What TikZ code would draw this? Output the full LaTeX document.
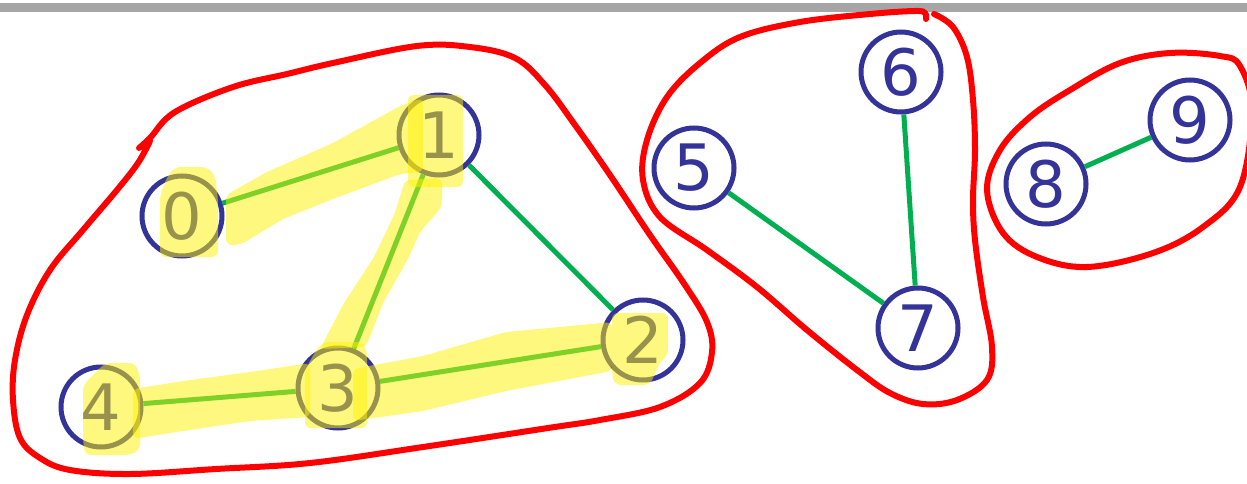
\documentclass[tikz,border=0pt]{standalone}
\usepackage{fontspec}
\setmainfont{DejaVu Sans}
\definecolor{nodeblue}{HTML}{333399}
\definecolor{edgegreen}{HTML}{00B050}
\definecolor{bargray}{HTML}{A6A6A6}
\begin{document}
\begin{tikzpicture}[x=1pt,y=-1pt,
  vertex/.style={circle, draw=nodeblue, line width=5pt, minimum size=80pt, inner sep=0pt, text=nodeblue, font=\fontsize{64}{64}\selectfont},
  greenedge/.style={edgegreen, line width=5pt},
  redloop/.style={red, line width=6pt, line cap=round, line join=round},
  hl/.style={fill=yellow, fill opacity=0.5, rounded corners=6pt}]
\useasboundingbox (0,0) rectangle (1247,484);
\fill[bargray] (0,3) rectangle (1247,12.5);

% nodes
\node[vertex] (n0) at (182,216) {0};
\node[vertex] (n1) at (439,135) {1};
\node[vertex] (n2) at (643,340) {2};
\node[vertex] (n3) at (338,388) {3};
\node[vertex] (n4) at (101,407) {4};
\node[vertex] (n5) at (694,168) {5};
\node[vertex] (n6) at (901,72) {6};
\node[vertex] (n7) at (918,328) {7};
\node[vertex] (n8) at (1046,184) {8};
\node[vertex] (n9) at (1190,120) {9};

% edges
\draw[greenedge] (n0) -- (n1);
\draw[greenedge] (n1) -- (n2);
\draw[greenedge] (n1) -- (n3);
\draw[greenedge] (n4) -- (n3);
\draw[greenedge] (n3) -- (n2);
\draw[greenedge] (n5) -- (n7);
\draw[greenedge] (n6) -- (n7);
\draw[greenedge] (n8) -- (n9);

% red loops
\draw[redloop] plot[smooth, tension=0.6] coordinates {
 (139,148) (150,138) (175,112) (233,87) (287,74) (333,63) (417,46) (470,47)
 (515,58) (545,85) (575,125) (610,175) (650,235) (685,285) (707,322) (712,352)
 (700,383) (660,407) (600,420) (548,428) (423,447) (310,463) (216,469) (130,474)
 (70,470) (40,458) (20,438) (13,400) (15,360) (27,315) (50,270) (83,230)
 (117,190) (138,163) (150,141)};
\draw[redloop] plot[smooth, tension=0.6] coordinates {
 (934,14) (953,27) (967,57) (973,100) (975,150) (973,200) (975,240) (983,297)
 (992,347) (987,380) (957,400) (923,404) (890,393) (857,370) (807,330) (757,287)
 (707,250) (660,217) (643,180) (647,140) (667,97) (700,63) (740,37) (800,22)
 (870,14) (915,11) (925,13) (926,19)};
\draw[redloop] plot[smooth cycle, tension=0.6] coordinates {
 (987,190) (1000,150) (1030,117) (1070,90) (1120,63) (1170,53) (1220,56)
 (1240,66) (1252,110) (1240,187) (1203,227) (1153,253) (1087,267) (1037,257)
 (1003,233)};

% yellow highlights
\fill[hl] (175,167) -- (207,167) -- (215,175) -- (218,200) -- (218,257) -- (160,257) -- (160,195) -- (168,175) -- cycle;
\fill[hl] (226,195) -- (267,172) -- (333,143) -- (400,106) -- (423,98) -- (423,172) -- (400,174) -- (333,199) -- (283,219) -- (240,245) -- (226,245) -- cycle;
\fill[hl] (408,95) -- (463,95) -- (463,187) -- (408,187) -- cycle;
\fill[hl] (405,180) -- (442,178) -- (442,207) -- (420,232) -- (409,257) -- (383,303) -- (366,347) -- (320,349) -- (344,303) -- (374,257) -- (395,213) -- cycle;
\fill[hl] (323,342) -- (362,342) -- (367,350) -- (367,428) -- (305,428) -- (305,370) -- (315,352) -- cycle;
\fill[hl] (133,389) -- (183,381) -- (250,372) -- (310,363) -- (310,417) -- (250,421) -- (183,431) -- (133,439) -- cycle;
\fill[hl] (105,363) -- (135,363) -- (140,375) -- (140,450) -- (130,455) -- (85,455) -- (83,440) -- (83,385) -- cycle;
\fill[hl] (353,369) -- (423,356) -- (506,332) -- (612,322) -- (612,371) -- (506,391) -- (423,411) -- (353,421) -- cycle;
\fill[hl] (612,313) -- (668,313) -- (668,355) -- (660,362) -- (650,385) -- (615,385) -- (612,375) -- cycle;
\end{tikzpicture}
\end{document}
